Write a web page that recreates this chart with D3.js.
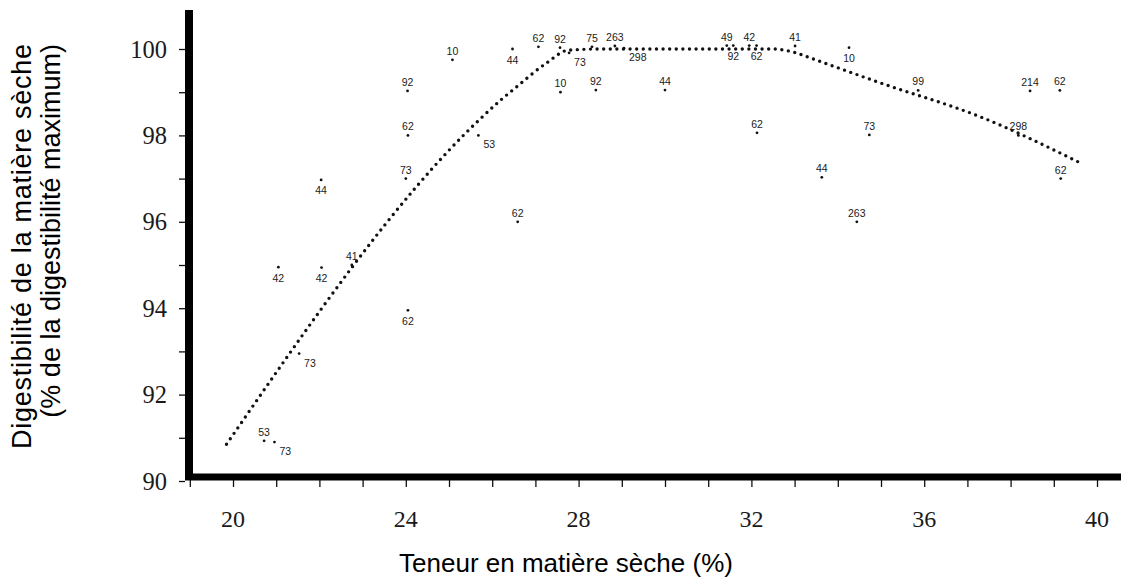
<!DOCTYPE html>
<html>
<head>
<meta charset="utf-8">
<script src="https://cdn.jsdelivr.net/npm/d3@7"></script>
<style>
  html, body { margin: 0; padding: 0; background: #fff; }
  svg { display: block; }
</style>
</head>
<body>
<svg id="chart" width="1121" height="577"></svg>
<script>
// ---- data ----
const pointX = [20.72, 20.96, 21.05, 22.05, 22.04, 22.75, 21.53, 24.0, 24.05, 24.04,
                24.05, 25.08, 25.68, 26.59, 26.47, 27.07, 27.57, 27.78, 28.31, 28.84,
                29.05, 27.58, 28.4, 30.0, 31.43, 31.58, 31.95, 32.12, 33.01, 32.13,
                34.26, 35.86, 38.45, 39.14, 34.73, 38.18, 39.16, 33.63, 34.44];
const pointY = [90.93, 90.90, 94.95, 94.94, 96.97, 95.0, 92.95, 97.0, 98.0, 99.03,
                93.95, 99.75, 98.0, 96.0, 100.0, 100.05, 100.03, 99.91, 100.05, 100.07,
                100.02, 99.0, 99.05, 99.05, 100.08, 100.08, 100.08, 100.08, 100.07, 98.06,
                100.03, 99.04, 99.03, 99.04, 98.01, 98.0, 97.0, 97.03, 96.0];
const pointLabel = ["53", "73", "42", "42", "44", "41", "73", "73", "62", "92",
                    "62", "10", "53", "62", "44", "62", "92", "73", "75", "263",
                    "298", "10", "92", "44", "49", "92", "42", "62", "41", "62",
                    "10", "99", "214", "62", "73", "298", "62", "44", "263"];
const labelSide = ["a", "br", "b", "b", "b", "a", "br", "a", "a", "a",
                   "b", "a", "br", "a", "b", "a", "a", "br", "a", "a",
                   "br", "a", "a", "a", "a", "b", "a", "b", "a", "a",
                   "b", "a", "a", "a", "a", "a", "a", "a", "a"];

const trendX = [19.85, 25.7, 26.2, 26.5, 27.25, 27.75, 28.5, 32.5, 33.0, 33.4, 35.0, 37.3, 39.6];
const trendY = [90.85, 98.36, 98.82, 99.07, 99.67, 99.97, 100.0, 100.0, 99.92, 99.78, 99.21, 98.43, 97.37];

const xTickLabels = [20, 24, 28, 32, 36, 40];
const yTickLabels = [90, 92, 94, 96, 98, 100];
const xMinorTicks = d3.range(19, 41, 1);
const yMinorTicks = d3.range(90, 101, 1);

const xTitle = "Teneur en matière sèche (%)";
const yTitle1 = "Digestibilité de la matière sèche";
const yTitle2 = "(% de la digestibilité maximum)";

// ---- drawing ----
const svg = d3.select("#chart");
svg.append("rect").attr("width", 1121).attr("height", 577).attr("fill", "#fff");

const x = d3.scaleLinear().domain([20, 40]).range([233, 1097]);
const y = d3.scaleLinear().domain([90, 100]).range([481, 49]);

const axisY = 189;    // x position of vertical axis
const axisXpos = 477; // y position of horizontal axis

const serif = "'Liberation Serif', 'Times New Roman', serif";
const sans = "'Liberation Sans', Arial, sans-serif";

// y axis ticks
const yAxis = d3.axisLeft(y).tickValues(yMinorTicks).tickSize(6).tickFormat(() => "");
const gy = svg.append("g").attr("transform", `translate(${axisY - 4},0)`).call(yAxis);
gy.select(".domain").remove();
gy.selectAll(".tick line").attr("stroke", "#111").attr("stroke-width", 1.3);

// y tick labels
svg.append("g").selectAll("text").data(yTickLabels).join("text")
  .attr("x", 167).attr("y", d => y(d))
  .attr("dy", "0.35em")
  .attr("text-anchor", "end")
  .attr("font-family", serif)
  .attr("font-size", 24.5)
  .attr("fill", "#1a1a1a")
  .text(d => d);

// x axis ticks
const xAxis = d3.axisBottom(x).tickValues(xMinorTicks).tickSize(7).tickFormat(() => "");
const gx = svg.append("g").attr("transform", `translate(0,${axisXpos + 3})`).call(xAxis);
gx.select(".domain").remove();
gx.selectAll(".tick line").attr("stroke", "#111").attr("stroke-width", 1.3);

// x tick labels
svg.append("g").selectAll("text").data(xTickLabels).join("text")
  .attr("x", d => x(d)).attr("y", 519)
  .attr("dy", "0.35em")
  .attr("text-anchor", "middle")
  .attr("font-family", serif)
  .attr("font-size", 24)
  .attr("fill", "#1a1a1a")
  .text(d => d);

// thick axis lines
svg.append("line")
  .attr("x1", axisY).attr("x2", axisY).attr("y1", 10).attr("y2", axisXpos + 3)
  .attr("stroke", "#000").attr("stroke-width", 8);
svg.append("line")
  .attr("x1", axisY - 4).attr("x2", 1121).attr("y1", axisXpos).attr("y2", axisXpos)
  .attr("stroke", "#000").attr("stroke-width", 7);

// trend line (dotted)
const trend = trendX.map((v, i) => [v, trendY[i]]);
svg.append("path")
  .datum(trend)
  .attr("d", d3.line().x(d => x(d[0])).y(d => y(d[1])).curve(d3.curveMonotoneX))
  .attr("fill", "none")
  .attr("stroke", "#111")
  .attr("stroke-width", 3.4)
  .attr("stroke-linecap", "round")
  .attr("stroke-dasharray", "0 6.6");

// points
const pts = pointX.map((v, i) => ({ x: v, y: pointY[i], label: pointLabel[i], side: labelSide[i] }));
svg.append("g").selectAll("circle").data(pts).join("circle")
  .attr("cx", d => x(d.x)).attr("cy", d => y(d.y))
  .attr("r", 1.4).attr("fill", "#111");

const off = { a: [0, -5], b: [0, 14.5], br: [5, 13] };
svg.append("g").selectAll("text").data(pts).join("text")
  .attr("x", d => x(d.x) + off[d.side][0])
  .attr("y", d => y(d.y) + off[d.side][1])
  .attr("text-anchor", d => d.side === "br" ? "start" : "middle")
  .attr("font-family", sans)
  .attr("font-size", 10.5)
  .attr("fill", "#1a1a1a")
  .text(d => d.label);

// axis titles
svg.append("text")
  .attr("x", 566).attr("y", 572)
  .attr("text-anchor", "middle")
  .attr("font-family", sans)
  .attr("font-size", 26)
  .attr("fill", "#000")
  .text(xTitle);

const yt = svg.append("g").attr("transform", "translate(0,44) rotate(-90)");
yt.append("text")
  .attr("x", 0).attr("y", 31)
  .attr("text-anchor", "end")
  .attr("font-family", sans)
  .attr("font-size", 27)
  .attr("textLength", 405)
  .attr("lengthAdjust", "spacing")
  .attr("fill", "#000")
  .text(yTitle1);
yt.append("text")
  .attr("x", 0).attr("y", 60)
  .attr("text-anchor", "end")
  .attr("font-family", sans)
  .attr("font-size", 27)
  .attr("fill", "#000")
  .text(yTitle2);
</script>
</body>
</html>
